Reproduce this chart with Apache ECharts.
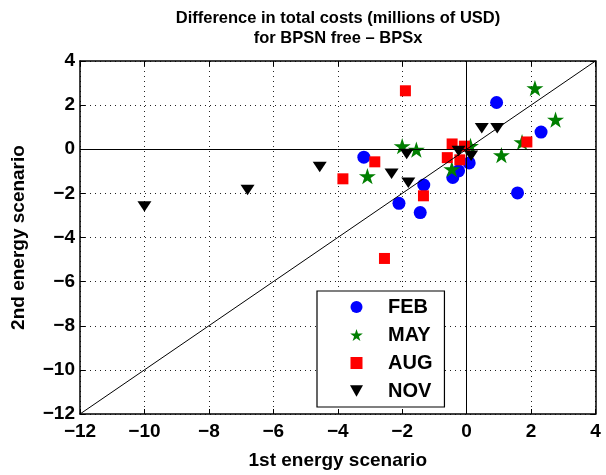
<!DOCTYPE html>
<html>
<head>
<meta charset="utf-8">
<script src="https://cdn.jsdelivr.net/npm/echarts@6/dist/echarts.min.js"></script>
<style>
  html, body { margin: 0; padding: 0; background: #fff; }
  #chart { width: 606px; height: 475px; }
</style>
</head>
<body>
<div id="chart"></div>
<script>
// Cost differences (millions of USD): x = 1st energy scenario, y = 2nd energy scenario
const febX = [-3.19, -1.33, -2.10, -1.44, -0.43, -0.25, 0.08, 0.93, 2.31, 1.58];
const febY = [-0.36, -1.62, -2.45, -2.87, -1.28, -0.98, -0.62, 2.12, 0.78, -1.98];

const mayX = [-3.08, -2.00, -1.56, -0.46, 0.12, 1.08, 1.72, 2.12, 2.76];
const mayY = [-1.22, 0.14, -0.02, -0.90, 0.15, -0.27, 0.32, 2.77, 1.34];

const augX = [-1.90, -2.85, -3.84, -1.34, -2.55, -0.45, -0.07, -0.60, -0.21, 1.87];
const augY = [2.65, -0.57, -1.34, -2.11, -4.95, 0.24, 0.14, -0.38, -0.48, 0.33];

const novX = [-10.0, -6.80, -4.56, -2.33, -1.86, -1.81, -0.25, 0.14, 0.47, 0.95];
const novY = [-2.60, -1.85, -0.80, -1.11, -0.21, -1.52, -0.08, -0.30, 0.95, 0.95];

// Reference line y = x across the full axis range
const diagX = [-12, 4];
const diagY = [-12, 4];

const months = ['FEB', 'MAY', 'AUG', 'NOV'];
const axisMin = -12, axisMax = 4, axisStep = 2;

const zip = (xs, ys) => xs.map((x, i) => [x, ys[i]]);

// Five-pointed star outline
function starPath() {
  const pts = [];
  for (let i = 0; i < 10; i++) {
    const r = i % 2 === 0 ? 1 : 0.38;
    const a = -Math.PI / 2 + i * Math.PI / 5;
    pts.push((r * Math.cos(a)).toFixed(4) + ',' + (r * Math.sin(a)).toFixed(4));
  }
  return 'path://M' + pts.join(' L') + ' Z';
}
const STAR = starPath();
const SQUARE = 'path://M0,0 L1,0 L1,1 L0,1 Z';
const TRI_DOWN = 'path://M0,0 L2,0 L1,1.75 Z';

const minus = v => String(v).replace('-', '\u2212');
const FONT = 'Liberation Sans, Arial, Helvetica, sans-serif';
const TICK_FONT = 19;
const NAME_FONT = 19;

const chart = echarts.init(document.getElementById('chart'), null, { renderer: 'canvas' });

const baseAxis = {
  min: axisMin, max: axisMax, interval: axisStep,
  axisLine: { show: true, onZero: false, lineStyle: { color: '#000', width: 1.5 } },
  axisTick: { show: true, inside: true, length: 5, lineStyle: { color: '#000', width: 1 } },
};

function scatter(name, data, symbol, size, color) {
  return {
    name, type: 'scatter', data, symbol, symbolSize: size,
    symbolKeepAspect: true,
    itemStyle: { color, opacity: 1 },
    emphasis: { disabled: true },
    xAxisIndex: 0, yAxisIndex: 0, z: 3
  };
}

chart.setOption({
  animation: false,
  backgroundColor: '#fff',
  title: {
    text: 'Difference in total costs (millions of USD)\nfor BPSN free \u2013 BPSx',
    left: 333, top: 3, textAlign: 'center',
    textStyle: { fontFamily: FONT, fontWeight: 'bold', fontSize: 16.5, color: '#000', lineHeight: 20 }
  },
  grid: { left: 80, right: 10.5, top: 61, bottom: 60.5, containLabel: false },
  legend: {
    data: months.map((m, i) => ({
      name: m,
      icon: [ 'circle', STAR, SQUARE, TRI_DOWN ][i]
    })),
    orient: 'vertical',
    left: 317, top: 291,
    itemWidth: 13, itemHeight: 12, itemGap: 8,
    symbolKeepAspect: true,
    padding: [6, 12, 6, 33],
    borderColor: '#000', borderWidth: 1.2, backgroundColor: '#fff',
    textStyle: {
      fontFamily: FONT, fontWeight: 'bold', fontSize: 20, color: '#000',
      lineHeight: 20, padding: [0, 0, 0, 20]
    },
    selectedMode: false
  },
  xAxis: [
    Object.assign({}, baseAxis, {
      type: 'value', position: 'bottom',
      name: '1st energy scenario', nameLocation: 'middle', nameGap: 37,
      nameTextStyle: { fontFamily: FONT, fontWeight: 'bold', fontSize: NAME_FONT, color: '#000' },
      axisLabel: { formatter: minus, margin: 8, fontFamily: FONT, fontWeight: 'bold', fontSize: TICK_FONT, color: '#000' },
      splitLine: { show: true, lineStyle: { color: '#222', width: 1, type: [1, 4] } }
    }),
    Object.assign({}, baseAxis, {
      type: 'value', position: 'top',
      axisLabel: { show: false }, splitLine: { show: false }
    })
  ],
  yAxis: [
    Object.assign({}, baseAxis, {
      type: 'value', position: 'left',
      name: '2nd energy scenario', nameLocation: 'middle', nameGap: 52,
      nameTextStyle: { fontFamily: FONT, fontWeight: 'bold', fontSize: NAME_FONT, color: '#000' },
      axisLabel: { formatter: minus, margin: 5, fontFamily: FONT, fontWeight: 'bold', fontSize: TICK_FONT, color: '#000' },
      splitLine: { show: true, lineStyle: { color: '#222', width: 1, type: [1, 4] } }
    }),
    Object.assign({}, baseAxis, {
      type: 'value', position: 'right',
      axisLabel: { show: false }, splitLine: { show: false }
    })
  ],
  series: [
    {
      name: 'zero', type: 'line', data: [], silent: true,
      markLine: {
        silent: true, symbol: 'none', label: { show: false },
        lineStyle: { color: '#000', width: 1, type: 'solid' },
        data: [{ xAxis: 0 }, { yAxis: 0 }]
      },
      z: 2
    },
    scatter('FEB', zip(febX, febY), 'circle', 13, '#0000ff'),
    scatter('MAY', zip(mayX, mayY), STAR, 17, '#007f00'),
    scatter('AUG', zip(augX, augY), SQUARE, 11, '#ff0000'),
    scatter('NOV', zip(novX, novY), TRI_DOWN, [14, 12], '#000000'),
    {
      name: 'diag', type: 'line', data: zip(diagX, diagY),
      symbol: 'none', silent: true,
      lineStyle: { color: '#000', width: 1 }, z: 4
    }
  ]
});
</script>
</body>
</html>
